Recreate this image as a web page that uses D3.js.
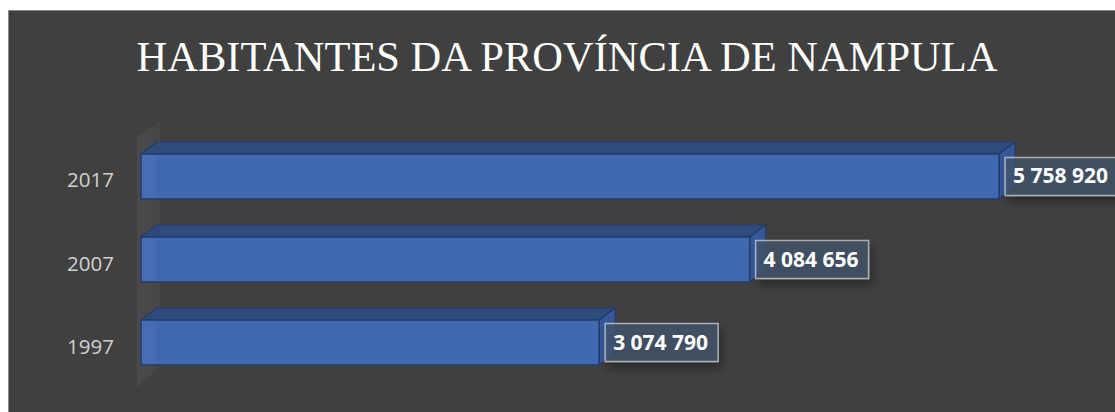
<!DOCTYPE html>
<html>
<head>
<meta charset="utf-8">
<script src="https://cdn.jsdelivr.net/npm/d3@7"></script>
<style>
  body { margin: 0; background: #fff; }
  svg { display: block; }
</style>
</head>
<body>
<div id="chart"></div>
<script>
var years = ["2017", "2007", "1997"];
var habitantes = [5758920, 4084656, 3074790];
var labels = ["5 758 920", "4 084 656", "3 074 790"];
var title = "HABITANTES DA PROVÍNCIA DE NAMPULA";

var W = 1115, H = 412;
var dx = 16, dy = 12; // profundidade 3D

var svg = d3.select("#chart").append("svg")
  .attr("width", W)
  .attr("height", H);

var defs = svg.append("defs");
var shadow = defs.append("filter")
  .attr("id", "sombra")
  .attr("x", "-30%").attr("y", "-40%")
  .attr("width", "170%").attr("height", "220%");
shadow.append("feDropShadow")
  .attr("dx", 3).attr("dy", 6)
  .attr("stdDeviation", 5)
  .attr("flood-color", "#000")
  .attr("flood-opacity", 0.45);

var wallGrad = defs.append("linearGradient")
  .attr("id", "parede")
  .attr("x1", "0%").attr("y1", "0%")
  .attr("x2", "100%").attr("y2", "0%");
wallGrad.append("stop").attr("offset", "0%").attr("stop-color", "#4b4949");
wallGrad.append("stop").attr("offset", "100%").attr("stop-color", "#474545");

// fundo do grafico
svg.append("rect")
  .attr("x", 8.5).attr("y", 10.5)
  .attr("width", W).attr("height", H)
  .attr("fill", "#404040")
  .attr("stroke", "#8a8a8a")
  .attr("stroke-width", 1);

var x = d3.scaleLinear()
  .domain([0, 6000000])
  .range([141, 1035]);

var y = d3.scaleBand()
  .domain(years)
  .range([154, 365])
  .paddingInner(0.458)
  .paddingOuter(0);

// parede lateral
var wx0 = x(0) - 4, wx1 = x(0) + dx + 3;
var wTop = y(years[0]) - dy - 20, wBot = y(years[years.length - 1]) + y.bandwidth() + 22;
svg.append("polygon")
  .attr("points", [
    [wx0, wTop + 15], [wx1, wTop], [wx1, wBot - 20], [wx0, wBot]
  ].map(function(p){ return p.join(","); }).join(" "))
  .attr("fill", "url(#parede)");

// titulo
svg.append("text")
  .attr("x", 567)
  .attr("y", 71)
  .attr("text-anchor", "middle")
  .style("font-family", "'Liberation Serif', 'Times New Roman', serif")
  .style("font-size", "42.5px")
  .style("fill", "#ffffff")
  .text(title);

// rotulos das categorias
svg.append("g").selectAll("text")
  .data(years)
  .enter().append("text")
  .attr("x", 114)
  .attr("y", function(d){ return y(d) + y.bandwidth() / 2 + 11; })
  .attr("text-anchor", "end")
  .style("font-family", "'Open Sans', sans-serif")
  .style("font-size", "20.5px")
  .style("fill", "#d0d0d0")
  .text(function(d){ return d; });

var data = years.map(function(yr, i){
  return { year: yr, value: habitantes[i], label: labels[i] };
});

function pts(a){ return a.map(function(p){ return p.join(","); }).join(" "); }

var bars = svg.append("g").selectAll("g")
  .data(data)
  .enter().append("g");

bars.each(function(d){
  var g = d3.select(this);
  var x0 = x(0), x1 = x(d.value);
  var yt = y(d.year), yb = yt + y.bandwidth();

  // topo
  g.append("polygon")
    .attr("points", pts([[x0, yt], [x0 + dx, yt - dy], [x1 + dx, yt - dy], [x1, yt]]))
    .attr("fill", "#2f4b7e")
    .attr("stroke", "#223c68")
    .attr("stroke-width", 1.2)
    .attr("stroke-linejoin", "round");

  // lado
  g.append("polygon")
    .attr("points", pts([[x1, yt], [x1 + dx, yt - dy], [x1 + dx, yb - dy], [x1, yb]]))
    .attr("fill", "#35589a")
    .attr("stroke", "#223c68")
    .attr("stroke-width", 1.2)
    .attr("stroke-linejoin", "round");

  // frente
  g.append("rect")
    .attr("x", x0)
    .attr("y", yt)
    .attr("width", x1 - x0)
    .attr("height", yb - yt)
    .attr("fill", "#4069b1")
    .attr("stroke", "#223c68")
    .attr("stroke-width", 1.5);

  // faixa clara junto a parede
  g.append("rect")
    .attr("x", x0 + 1)
    .attr("y", yt + 1)
    .attr("width", dx - 2)
    .attr("height", yb - yt - 2)
    .attr("fill", "#ffffff")
    .attr("opacity", 0.04);
});

// rotulos de dados
var lab = svg.append("g").selectAll("g")
  .data(data)
  .enter().append("g")
  .attr("transform", function(d){
    return "translate(" + (x(d.value) + 6) + "," + (y(d.year) + y.bandwidth() / 2 - 19) + ")";
  });

lab.append("rect")
  .attr("width", 113)
  .attr("height", 38)
  .attr("fill", "rgba(68,84,106,0.78)")
  .attr("stroke", "rgba(255,255,255,0.55)")
  .attr("stroke-width", 1.5)
  .attr("filter", "url(#sombra)");

lab.append("text")
  .attr("x", 8)
  .attr("y", 26)
  .style("font-family", "'Open Sans', sans-serif")
  .style("font-size", "21px")
  .style("font-weight", "bold")
  .style("fill", "#ffffff")
  .text(function(d){ return d.label; });
</script>
</body>
</html>
